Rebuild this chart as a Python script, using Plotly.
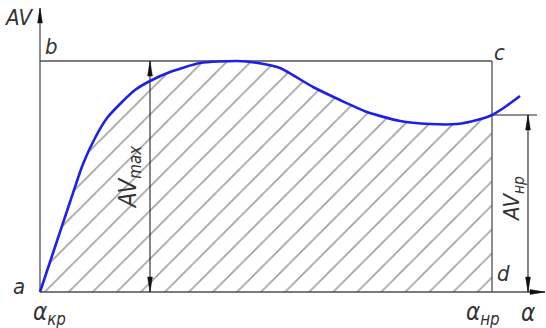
import plotly.graph_objects as go

# ---- data (alpha units along the horizontal axis, AV units vertically) ----
alpha_curve = [0, 15, 30, 43, 55, 67, 82, 95, 110, 130, 160, 197, 218,
               240, 273, 300, 327, 360, 390, 417, 437, 452, 465, 480]
av_curve = [0, 45, 90, 128, 154, 174, 190, 202, 211, 220, 229, 231, 229,
            224, 205, 192, 180, 171, 168, 168, 172, 177, 185, 196]

alpha_kr = 0        # α_кр
alpha_np = 452      # α_нр
av_max = 231        # AV_max
av_np = 177         # AV_нр
alpha_dim_max = 110  # position of AV_max dimension line
alpha_dim_np = 488   # position of AV_нр dimension line
axis_top = 284
axis_right = 505
ext_end = 497

LINE = "#505050"
TXT = "#333333"
FONT = "Liberation Sans Narrow, DejaVu Sans Condensed, Liberation Sans, sans-serif"

fig = go.Figure()

# hatched area under the curve between α_кр and α_нр
n_fill = alpha_curve.index(alpha_np) + 1
fig.add_trace(go.Scatter(
    x=alpha_curve[:n_fill], y=av_curve[:n_fill], mode="lines",
    line=dict(width=0, shape="spline", smoothing=0.6),
    fill="tozeroy", fillcolor="rgba(0,0,0,0)",
    fillpattern=dict(shape="/", fgcolor="#333333", bgcolor="rgba(0,0,0,0)",
                     size=17, solidity=0.09),
    hoverinfo="skip", showlegend=False))


def seg(x, y, w=1.3, color=LINE):
    fig.add_trace(go.Scatter(x=x, y=y, mode="lines",
                             line=dict(color=color, width=w),
                             hoverinfo="skip", showlegend=False))


# axes
seg([alpha_kr, alpha_kr], [0, axis_top])
seg([alpha_kr, axis_right], [0, 0])
# rectangle b-c-d
seg([alpha_kr, alpha_np], [av_max, av_max])
seg([alpha_np, alpha_np], [0, av_max])
# extension line for AV_нр
seg([alpha_np, ext_end], [av_np, av_np], w=1.1, color="#222222")
# dimension lines
seg([alpha_dim_max, alpha_dim_max], [0, av_max], w=1.1, color="#222222")
seg([alpha_dim_np, alpha_dim_np], [0, av_np], w=1.1, color="#222222")


def head(tx, ty, dx, dy, L=15, hw=2.4):
    nx, ny = -dy, dx
    bx, by = tx - L * dx, ty - L * dy
    fig.add_trace(go.Scatter(
        x=[tx, bx + hw * nx, bx - hw * nx, tx],
        y=[ty, by + hw * ny, by - hw * ny, ty],
        mode="lines", fill="toself", fillcolor="#111111",
        line=dict(color="#111111", width=0.5),
        hoverinfo="skip", showlegend=False))


head(alpha_kr, axis_top, 0, 1)
head(axis_right, 0, 1, 0)
head(alpha_dim_max, av_max, 0, 1)
head(alpha_dim_max, 0, 0, -1)
head(alpha_dim_np, av_np, 0, 1)
head(alpha_dim_np, 0, 0, -1)

# the curve
fig.add_trace(go.Scatter(
    x=alpha_curve, y=av_curve, mode="lines",
    line=dict(color="#1f1fe6", width=2.6, shape="spline", smoothing=0.6),
    hoverinfo="skip", showlegend=False))


def label(x, y, text, size=22, angle=0):
    fig.add_annotation(x=x, y=y, xref="x", yref="y", text=text,
                       showarrow=False, textangle=angle,
                       font=dict(family=FONT, size=size, color=TXT))


label(-22, 275, "<i>AV</i>")
label(11, 246, "<i>b</i>")
label(459, 240, "<i>c</i>")
label(-21, 6, "<i>a</i>")
label(463, 19, "<i>d</i>")
label(9, -21, "<i>α<sub>кр</sub></i>", size=24)
label(443, -21, "<i>α<sub>нр</sub></i>", size=24)
label(488, -21, "<i>α</i>", size=24)
label(89, 115, "<i>AV<sub>max</sub></i>", size=24, angle=-90)
label(473, 93, "<i>AV<sub>нр</sub></i>", size=22, angle=-90)

fig.update_layout(
    width=546, height=328, margin=dict(l=0, r=0, t=0, b=0),
    paper_bgcolor="white", plot_bgcolor="white",
    xaxis=dict(range=[-40, 506], visible=False, fixedrange=True),
    yaxis=dict(range=[-36, 292], visible=False, fixedrange=True),
    showlegend=False)

fig.write_html("out.html", config={"displayModeBar": False},
               post_script="document.body.style.margin='0';"
                           "document.body.style.overflow='hidden';")
